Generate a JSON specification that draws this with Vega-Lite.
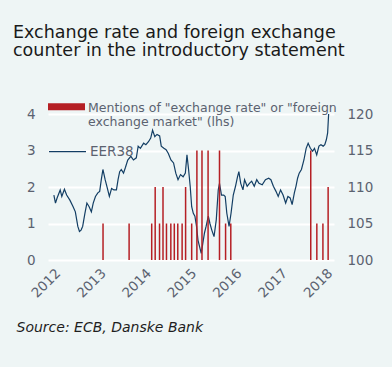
{
  "$schema": "https://vega.github.io/schema/vega-lite/v6.json",
  "width": 286,
  "height": 146,
  "autosize": {"type": "none"},
  "padding": {"left": 48, "top": 114, "right": 58, "bottom": 107},
  "background": "#eef5f5",
  "title": {
    "text": ["Exchange rate and foreign exchange", "counter in the introductory statement"],
    "anchor": "start",
    "frame": "group",
    "dx": -35,
    "dy": -30,
    "font": "DejaVu Sans",
    "fontSize": 17.5,
    "fontWeight": "normal",
    "color": "#1a1a1a",
    "lineHeight": 18
  },
  "config": {
    "view": {"stroke": null},
    "axis": {"labelFont": "DejaVu Sans", "labelFontSize": 13.5, "labelColor": "#5b6270"}
  },
  "datasets": {
    "bars": [
      {"date": "2013-02-07", "mentions": 1},
      {"date": "2013-09-05", "mentions": 1},
      {"date": "2014-03-06", "mentions": 1},
      {"date": "2014-04-03", "mentions": 2},
      {"date": "2014-05-08", "mentions": 1},
      {"date": "2014-06-05", "mentions": 2},
      {"date": "2014-07-03", "mentions": 1},
      {"date": "2014-08-07", "mentions": 1},
      {"date": "2014-09-04", "mentions": 1},
      {"date": "2014-10-02", "mentions": 1},
      {"date": "2014-11-06", "mentions": 1},
      {"date": "2014-12-04", "mentions": 2},
      {"date": "2015-01-22", "mentions": 1},
      {"date": "2015-03-05", "mentions": 3},
      {"date": "2015-04-15", "mentions": 3},
      {"date": "2015-06-03", "mentions": 3},
      {"date": "2015-09-03", "mentions": 3},
      {"date": "2015-10-22", "mentions": 1},
      {"date": "2015-12-03", "mentions": 1},
      {"date": "2017-09-07", "mentions": 3},
      {"date": "2017-10-26", "mentions": 1},
      {"date": "2017-12-14", "mentions": 1},
      {"date": "2018-01-25", "mentions": 2}
    ],
    "eer": [
      {"date": "2012-01-08", "eer": 108.9},
      {"date": "2012-01-21", "eer": 107.8},
      {"date": "2012-02-03", "eer": 108.5},
      {"date": "2012-02-28", "eer": 109.6},
      {"date": "2012-03-12", "eer": 108.7},
      {"date": "2012-04-02", "eer": 109.7},
      {"date": "2012-04-20", "eer": 108.9},
      {"date": "2012-05-16", "eer": 108.2},
      {"date": "2012-06-11", "eer": 107.3},
      {"date": "2012-06-29", "eer": 106.6},
      {"date": "2012-07-19", "eer": 104.6},
      {"date": "2012-08-01", "eer": 103.9},
      {"date": "2012-08-14", "eer": 104.1},
      {"date": "2012-08-27", "eer": 104.6},
      {"date": "2012-09-14", "eer": 106.4},
      {"date": "2012-09-30", "eer": 107.8},
      {"date": "2012-10-18", "eer": 107.3},
      {"date": "2012-11-05", "eer": 106.6},
      {"date": "2012-11-20", "eer": 107.8},
      {"date": "2012-12-08", "eer": 108.7},
      {"date": "2012-12-27", "eer": 109.2},
      {"date": "2013-01-11", "eer": 109.4},
      {"date": "2013-01-24", "eer": 111.0},
      {"date": "2013-02-06", "eer": 112.4},
      {"date": "2013-02-24", "eer": 111.0},
      {"date": "2013-03-14", "eer": 109.8},
      {"date": "2013-03-30", "eer": 108.7},
      {"date": "2013-04-17", "eer": 109.8},
      {"date": "2013-05-05", "eer": 109.6},
      {"date": "2013-05-26", "eer": 109.6},
      {"date": "2013-06-08", "eer": 111.0},
      {"date": "2013-06-21", "eer": 112.1},
      {"date": "2013-07-04", "eer": 112.4},
      {"date": "2013-07-22", "eer": 111.9},
      {"date": "2013-08-07", "eer": 112.7},
      {"date": "2013-08-25", "eer": 113.7},
      {"date": "2013-09-19", "eer": 114.2},
      {"date": "2013-10-10", "eer": 113.7},
      {"date": "2013-11-02", "eer": 114.0},
      {"date": "2013-11-17", "eer": 115.6},
      {"date": "2013-12-05", "eer": 115.3},
      {"date": "2013-12-31", "eer": 116.0},
      {"date": "2014-01-18", "eer": 115.8},
      {"date": "2014-02-08", "eer": 116.2},
      {"date": "2014-02-26", "eer": 116.7},
      {"date": "2014-03-13", "eer": 117.8},
      {"date": "2014-03-31", "eer": 116.9},
      {"date": "2014-04-18", "eer": 117.2},
      {"date": "2014-05-09", "eer": 117.0},
      {"date": "2014-05-22", "eer": 115.6},
      {"date": "2014-06-12", "eer": 115.3},
      {"date": "2014-06-30", "eer": 115.1},
      {"date": "2014-07-18", "eer": 114.6},
      {"date": "2014-08-08", "eer": 113.7},
      {"date": "2014-08-29", "eer": 113.3},
      {"date": "2014-09-16", "eer": 111.9},
      {"date": "2014-10-04", "eer": 111.0},
      {"date": "2014-10-24", "eer": 111.7},
      {"date": "2014-11-14", "eer": 111.4},
      {"date": "2014-12-02", "eer": 111.9},
      {"date": "2014-12-15", "eer": 114.4},
      {"date": "2014-12-28", "eer": 112.4},
      {"date": "2015-01-10", "eer": 110.1},
      {"date": "2015-01-22", "eer": 107.3},
      {"date": "2015-02-04", "eer": 106.4},
      {"date": "2015-02-17", "eer": 106.0},
      {"date": "2015-03-02", "eer": 104.6},
      {"date": "2015-03-14", "eer": 102.7},
      {"date": "2015-03-27", "eer": 101.8},
      {"date": "2015-04-09", "eer": 100.9},
      {"date": "2015-04-22", "eer": 102.3},
      {"date": "2015-05-05", "eer": 103.7},
      {"date": "2015-05-18", "eer": 104.6},
      {"date": "2015-06-05", "eer": 106.0},
      {"date": "2015-06-18", "eer": 105.0},
      {"date": "2015-07-03", "eer": 104.1},
      {"date": "2015-07-21", "eer": 103.2},
      {"date": "2015-08-08", "eer": 105.5},
      {"date": "2015-08-24", "eer": 109.6},
      {"date": "2015-09-03", "eer": 110.5},
      {"date": "2015-09-19", "eer": 108.9},
      {"date": "2015-10-07", "eer": 108.9},
      {"date": "2015-10-19", "eer": 108.7},
      {"date": "2015-11-01", "eer": 106.4},
      {"date": "2015-11-19", "eer": 104.6},
      {"date": "2015-12-05", "eer": 106.4},
      {"date": "2015-12-23", "eer": 108.9},
      {"date": "2016-01-10", "eer": 110.1},
      {"date": "2016-01-26", "eer": 111.4},
      {"date": "2016-02-06", "eer": 112.1},
      {"date": "2016-02-21", "eer": 110.5},
      {"date": "2016-03-10", "eer": 109.6},
      {"date": "2016-03-23", "eer": 111.0},
      {"date": "2016-04-13", "eer": 110.1},
      {"date": "2016-05-01", "eer": 110.5},
      {"date": "2016-05-19", "eer": 110.8},
      {"date": "2016-06-09", "eer": 110.1},
      {"date": "2016-06-29", "eer": 111.0},
      {"date": "2016-07-17", "eer": 110.5},
      {"date": "2016-08-12", "eer": 110.3},
      {"date": "2016-09-07", "eer": 111.0},
      {"date": "2016-10-03", "eer": 111.2},
      {"date": "2016-10-21", "eer": 111.0},
      {"date": "2016-11-10", "eer": 110.1},
      {"date": "2016-12-01", "eer": 109.4},
      {"date": "2016-12-19", "eer": 108.7},
      {"date": "2017-01-07", "eer": 109.6},
      {"date": "2017-01-27", "eer": 108.9},
      {"date": "2017-02-17", "eer": 107.8},
      {"date": "2017-03-07", "eer": 108.7},
      {"date": "2017-03-25", "eer": 108.5},
      {"date": "2017-04-10", "eer": 107.6},
      {"date": "2017-04-28", "eer": 109.2},
      {"date": "2017-05-11", "eer": 110.1},
      {"date": "2017-05-24", "eer": 111.2},
      {"date": "2017-06-06", "eer": 111.9},
      {"date": "2017-06-24", "eer": 112.4},
      {"date": "2017-07-14", "eer": 113.7},
      {"date": "2017-08-01", "eer": 115.3},
      {"date": "2017-08-17", "eer": 116.0},
      {"date": "2017-09-04", "eer": 115.3},
      {"date": "2017-09-22", "eer": 114.9},
      {"date": "2017-10-07", "eer": 115.3},
      {"date": "2017-10-25", "eer": 114.4},
      {"date": "2017-11-12", "eer": 115.6},
      {"date": "2017-11-28", "eer": 115.8},
      {"date": "2017-12-16", "eer": 115.6},
      {"date": "2017-12-29", "eer": 115.8},
      {"date": "2018-01-11", "eer": 116.5},
      {"date": "2018-01-21", "eer": 117.4},
      {"date": "2018-01-29", "eer": 120.0}
    ]
  },
  "layer": [
    {
      "data": {"name": "eer"},
      "mark": {"type": "line", "strokeWidth": 1.2},
      "encoding": {
        "x": {
          "field": "date",
          "type": "temporal",
          "scale": {"domain": [{"year": 2012, "month": 1, "date": 1}, {"year": 2018, "month": 2, "date": 1}]},
          "axis": {
            "format": "%Y",
            "tickCount": {"interval": "year", "step": 1},
            "labelAngle": -45,
            "grid": false,
            "domain": false,
            "ticks": false,
            "labelPadding": 6,
            "title": "Source: ECB, Danske Bank",
            "titleFont": "DejaVu Sans",
            "titleFontStyle": "italic",
            "titleFontSize": 14,
            "titleFontWeight": "normal",
            "titleColor": "#1e1e1e",
            "titleAnchor": "start",
            "titleAlign": "left",
            "titleX": -32,
            "titleY": 71.7,
            "titleBaseline": "alphabetic"
          }
        },
        "y": {
          "field": "eer",
          "type": "quantitative",
          "scale": {"domain": [100, 120], "nice": false, "zero": false},
          "axis": {
            "orient": "right",
            "values": [100, 105, 110, 115, 120],
            "grid": false,
            "domain": false,
            "ticks": false,
            "labelPadding": 13,
            "title": null
          }
        },
        "stroke": {
          "datum": "EER38",
          "scale": {"range": ["#133e64"]},
          "legend": {
            "orient": "none",
            "legendX": 0,
            "legendY": 18.2,
            "title": null,
            "padding": 0,
            "symbolType": "stroke",
            "symbolSize": 1369,
            "symbolStrokeWidth": 1.3,
            "labelFont": "DejaVu Sans",
            "labelFontSize": 13.5,
            "labelColor": "#5b6270",
            "labelOffset": 3
          }
        }
      }
    },
    {
      "data": {"name": "bars"},
      "mark": {"type": "bar", "width": 1.5},
      "encoding": {
        "x": {"field": "date", "type": "temporal"},
        "y": {
          "field": "mentions",
          "type": "quantitative",
          "scale": {"domain": [0, 4], "nice": false},
          "axis": {
            "values": [0, 1, 2, 3, 4],
            "grid": true,
            "gridColor": "#ffffff",
            "gridWidth": 2,
            "domain": false,
            "ticks": false,
            "labelPadding": 13,
            "title": null
          }
        },
        "color": {
          "datum": "Mentions",
          "scale": {"range": ["#b51f24"]},
          "legend": {
            "orient": "none",
            "legendX": 0,
            "legendY": -20.8,
            "title": null,
            "padding": 0,
            "symbolType": "M-1,-0.46H1V-0.08H-1Z",
            "symbolSize": 1369,
            "symbolStrokeWidth": 0,
            "labelExpr": "['Mentions of \"exchange rate\" or \"foreign', 'exchange market\" (lhs)']",
            "labelFont": "DejaVu Sans",
            "labelFontSize": 12.5,
            "labelColor": "#5b6270",
            "labelLimit": 320,
            "labelOffset": 3,
            "labelBaseline": "alphabetic"
          }
        }
      }
    }
  ],
  "resolve": {"scale": {"y": "independent"}}
}
